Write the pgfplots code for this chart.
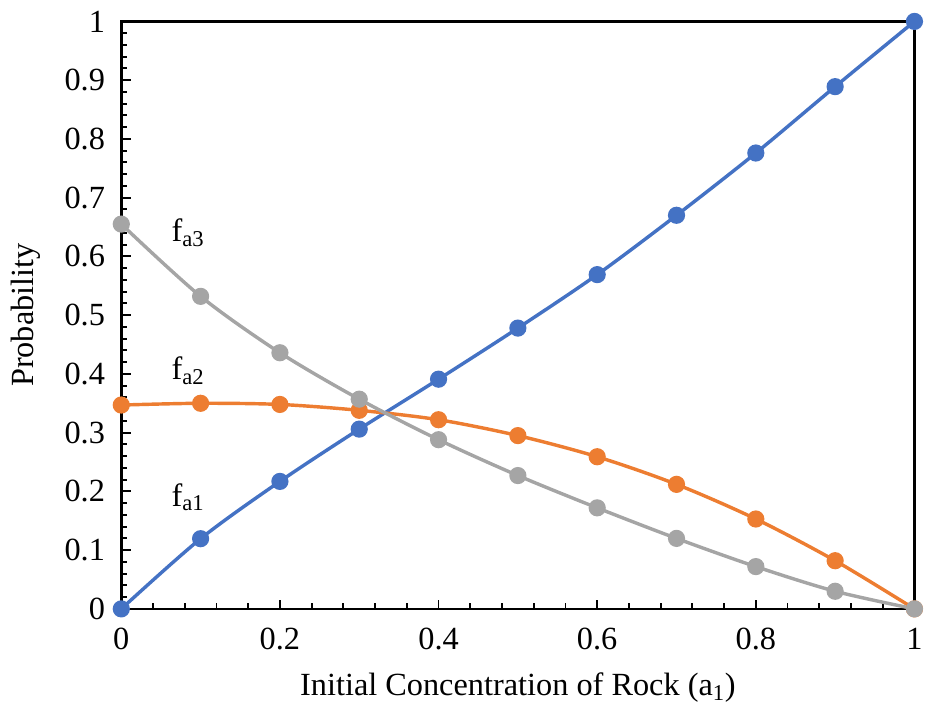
\documentclass[border=0pt]{standalone}
\usepackage{pgfplots}
\pgfplotsset{compat=1.18}
\usepackage{fontspec}
\setmainfont{Liberation Serif}
\definecolor{cblue}{HTML}{4472C4}
\definecolor{corange}{HTML}{ED7D31}
\definecolor{cgray}{HTML}{A5A5A5}
\begin{document}
\rmfamily\fontsize{24.5}{29}\selectfont
\begin{tikzpicture}[font=\rmfamily, trim right=(R)]
\begin{axis}[
  scale only axis,
  width=601.5pt, height=445.5pt,
  xmin=0, xmax=1, ymin=0, ymax=1,
  xtick={0,0.2,...,1.01}, ytick={0,0.1,...,1.01},
  xticklabels={0,0.2,0.4,0.6,0.8,1},
  yticklabels={0,0.1,0.2,0.3,0.4,0.5,0.6,0.7,0.8,0.9,1},
  /pgf/number format/assume math mode=true,
  minor x tick num=4, minor y tick num=4,
  tick align=inside,
  xtick pos=bottom, ytick pos=left,
  major tick length=7pt, minor tick length=4.5pt,
  every tick/.style={black, line width=1.4pt},
  axis line style={line width=2pt},
  tick label style={font=\rmfamily\fontsize{24.5}{29}\selectfont},
  label style={font=\rmfamily\fontsize{24.5}{29}\selectfont},
  xticklabel style={yshift=-6pt},
  yticklabel style={xshift=-4pt},
  xlabel={Initial Concentration of Rock (a\textsubscript{1})},
  ylabel={Probability},
  xlabel style={yshift=-1pt},
  ylabel style={yshift=2pt},
  clip=false,
]
\addplot[cblue, line width=2.6pt, smooth, mark=*, mark size=5.2pt] coordinates {
(0,0) (0.1,0.1195) (0.2,0.217) (0.3,0.306) (0.4,0.391) (0.5,0.478) (0.6,0.569) (0.7,0.670) (0.8,0.776) (0.9,0.889) (1,1)};
\addplot[corange, line width=2.6pt, smooth, mark=*, mark size=5.2pt] coordinates {
(0,0.347) (0.1,0.350) (0.2,0.348) (0.3,0.338) (0.4,0.322) (0.5,0.295) (0.6,0.259) (0.7,0.212) (0.8,0.153) (0.9,0.082) (1,0)};
\addplot[cgray, line width=2.6pt, smooth, mark=*, mark size=5.2pt] coordinates {
(0,0.655) (0.1,0.532) (0.2,0.436) (0.3,0.357) (0.4,0.288) (0.5,0.227) (0.6,0.172) (0.7,0.120) (0.8,0.072) (0.9,0.030) (1,0)};
\node at (axis cs:0.084,0.640) {f\textsubscript{a3}};
\node at (axis cs:0.084,0.405) {f\textsubscript{a2}};
\node at (axis cs:0.084,0.190) {f\textsubscript{a1}};
\coordinate (R) at ([xshift=8pt]rel axis cs:1,0);
\end{axis}
\end{tikzpicture}
\end{document}
